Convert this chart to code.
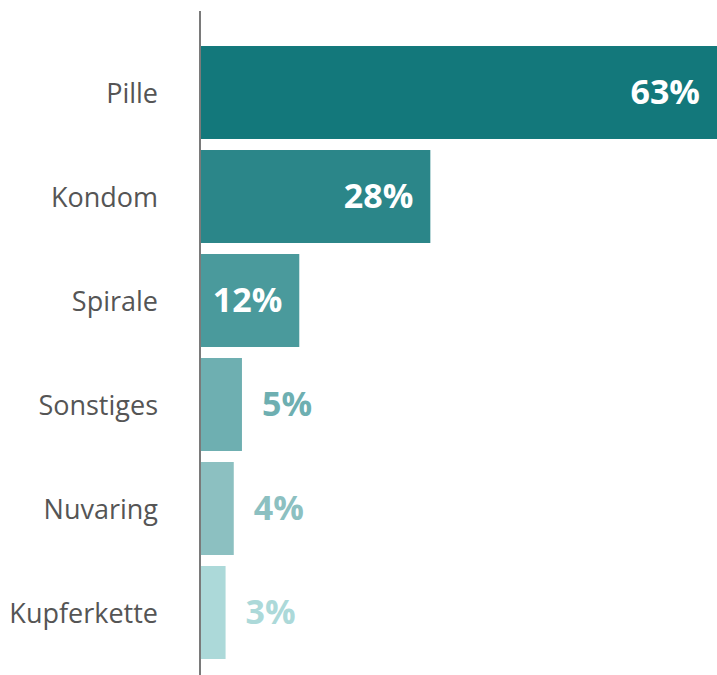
<!DOCTYPE html>
<html>
<head>
<meta charset="utf-8">
<script src="https://cdn.jsdelivr.net/npm/d3@7"></script>
<style>
  body { margin: 0; background: #fff; }
  svg { display: block; font-family: "Open Sans", sans-serif; }
</style>
</head>
<body>
<div id="chart"></div>
<script>
const width = 717,
    height = 675,
    axisX = 200;

const categories = ["Pille", "Kondom", "Spirale", "Sonstiges", "Nuvaring", "Kupferkette"];
const values = [63, 28, 12, 5, 4, 3];
const colours = ["#13787b", "#2b8689", "#4a9a9c", "#6eafb1", "#8cc0c1", "#acd9d9"];
// labels that fit go inside the bar
const inside = [true, true, true, false, false, false];

const data = categories.map((c, i) => ({ name: c, value: values[i], colour: colours[i], inside: inside[i] }));

const svg = d3
    .select("#chart")
    .append("svg")
    .attr("width", width)
    .attr("height", height);

const yScale = d3
    .scaleBand()
    .domain(categories)
    .range([40.5, 664.5])
    .paddingInner(0.106)
    .paddingOuter(0.053);

const xScale = d3
    .scaleLinear()
    .domain([0, 63])
    .range([axisX + 1, width]);

// bars
svg.append("g")
    .selectAll("rect")
    .data(data)
    .enter()
    .append("rect")
    .attr("x", xScale(0))
    .attr("y", (d) => yScale(d.name))
    .attr("width", (d) => xScale(d.value) - xScale(0))
    .attr("height", yScale.bandwidth())
    .attr("fill", (d) => d.colour);

// value labels
svg.append("g")
    .selectAll("text")
    .data(data)
    .enter()
    .append("text")
    .attr("x", (d) => (d.inside ? xScale(d.value) - 17 : xScale(d.value) + 20))
    .attr("y", (d) => yScale(d.name) + yScale.bandwidth() / 2)
    .attr("dy", "0.35em")
    .attr("text-anchor", (d) => (d.inside ? "end" : "start"))
    .style("font-size", "34px")
    .style("font-weight", "700")
    .attr("fill", (d) => (d.inside ? "#ffffff" : d.colour))
    .text((d) => d.value + "%");

// category labels
svg.append("g")
    .selectAll("text")
    .data(data)
    .enter()
    .append("text")
    .attr("x", 158)
    .attr("y", (d) => yScale(d.name) + yScale.bandwidth() / 2)
    .attr("dy", "0.4em")
    .attr("text-anchor", "end")
    .style("font-size", "27px")
    .attr("fill", "#555555")
    .text((d) => d.name);

// axis line
svg.append("line")
    .attr("x1", axisX)
    .attr("x2", axisX)
    .attr("y1", 11)
    .attr("y2", height)
    .attr("stroke", "#7a7a7a")
    .attr("stroke-width", 2);
</script>
</body>
</html>
